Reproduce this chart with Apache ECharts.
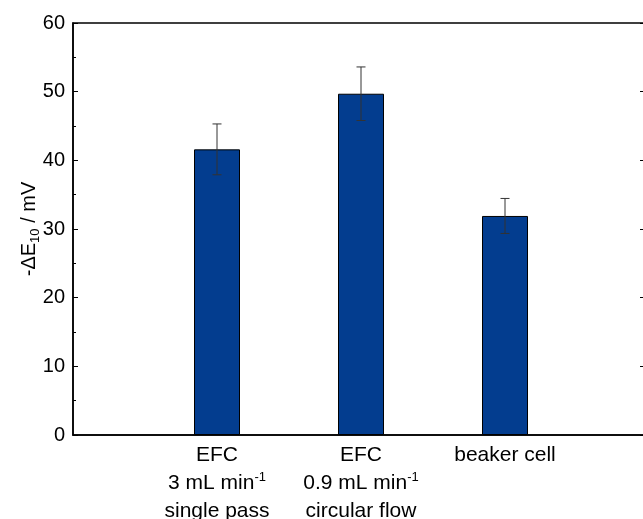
<!DOCTYPE html>
<html>
<head>
<meta charset="utf-8">
<script src="https://cdn.jsdelivr.net/npm/echarts@6/dist/echarts.min.js"></script>
<style>html,body{margin:0;padding:0;background:#fff;overflow:hidden;width:643px;height:519px}#c{width:670px;height:519px}</style>
</head>
<body>
<div id="c"></div>
<script>
const categories = ['', 'EFC\n3 mL min{sup|-1}\nsingle pass', 'EFC\n0.9 mL min{sup|-1}\ncircular flow', 'beaker cell', ''];
const values = [null, 41.6, 49.7, 31.9, null];
const errors = [null, 3.7, 3.9, 2.55, null];
const yTicks = [0, 10, 20, 30, 40, 50, 60];

const font = '"Liberation Sans", Arial, sans-serif';
const chart = echarts.init(document.getElementById('c'), null, {renderer: 'canvas'});

const errData = [];
values.forEach((v, i) => { if (v != null) errData.push([i, v - errors[i], v + errors[i]]); });

chart.setOption({
  animation: false,
  backgroundColor: '#fff',
  grid: {left: 73, top: 23, width: 576, height: 412, outerBoundsMode: 'none', containLabel: false,
    show: true, borderColor: '#000', borderWidth: 1.5, backgroundColor: 'transparent'},
  xAxis: {
    type: 'category',
    data: categories,
    boundaryGap: false,
    axisLine: {lineStyle: {color: '#000', width: 1.5}},
    axisTick: {inside: true, length: 5, lineStyle: {color: '#000', width: 1},
      interval: (i) => i >= 1 && i <= 3},
    axisLabel: {
      interval: 0, margin: 6, color: '#000', fontFamily: font, fontSize: 21, lineHeight: 28,
      rich: {sup: {fontSize: 13, fontFamily: font, color: '#000', padding: [0, 0, 12, 0]}}
    },
    splitLine: {show: false}
  },
  yAxis: [{
    type: 'value', min: 0, max: 60, interval: 10,
    name: '-ΔE{sub|10} / mV',
    nameLocation: 'middle', nameGap: 31, nameRotate: 90, nameMoveOverlap: false,
    nameTextStyle: {color: '#000', fontFamily: font, fontSize: 20,
      rich: {sub: {fontSize: 13, fontFamily: font, color: '#000', padding: [12, 0, 0, 0]}}},
    axisLine: {show: true, lineStyle: {color: '#000', width: 1.5}},
    axisTick: {show: true, inside: true, length: 5, lineStyle: {color: '#000', width: 1}},
    minorTick: {show: true, splitNumber: 2, length: 3, lineStyle: {color: '#000', width: 1}},
    axisLabel: {color: '#000', fontFamily: font, fontSize: 20, margin: 8,
      formatter: (v) => yTicks.includes(v) ? String(v) : ''},
    splitLine: {show: false}
  }, {
    type: 'value', min: 0, max: 60, interval: 10, position: 'right',
    axisLine: {show: true, lineStyle: {color: '#000', width: 1.5}},
    axisTick: {show: true, inside: true, length: 9, lineStyle: {color: '#000', width: 1}},
    axisLabel: {show: false},
    splitLine: {show: false}
  }],
  series: [{
    type: 'bar',
    data: values,
    barWidth: 46,
    itemStyle: {color: '#033d8f', borderColor: '#000', borderWidth: 1},
    z: 2
  }, {
    type: 'custom',
    data: errData,
    z: 3,
    renderItem: function (params, api) {
      const x = api.value(0);
      const lo = api.coord([x, api.value(1)]);
      const hi = api.coord([x, api.value(2)]);
      const cap = 4.5;
      const st = {stroke: '#333', lineWidth: 1};
      return {type: 'group', children: [
        {type: 'line', shape: {x1: lo[0], y1: lo[1], x2: hi[0], y2: hi[1]}, style: st},
        {type: 'line', shape: {x1: lo[0] - cap, y1: lo[1], x2: lo[0] + cap, y2: lo[1]}, style: st},
        {type: 'line', shape: {x1: hi[0] - cap, y1: hi[1], x2: hi[0] + cap, y2: hi[1]}, style: st}
      ]};
    }
  }]
});
</script>
</body>
</html>
